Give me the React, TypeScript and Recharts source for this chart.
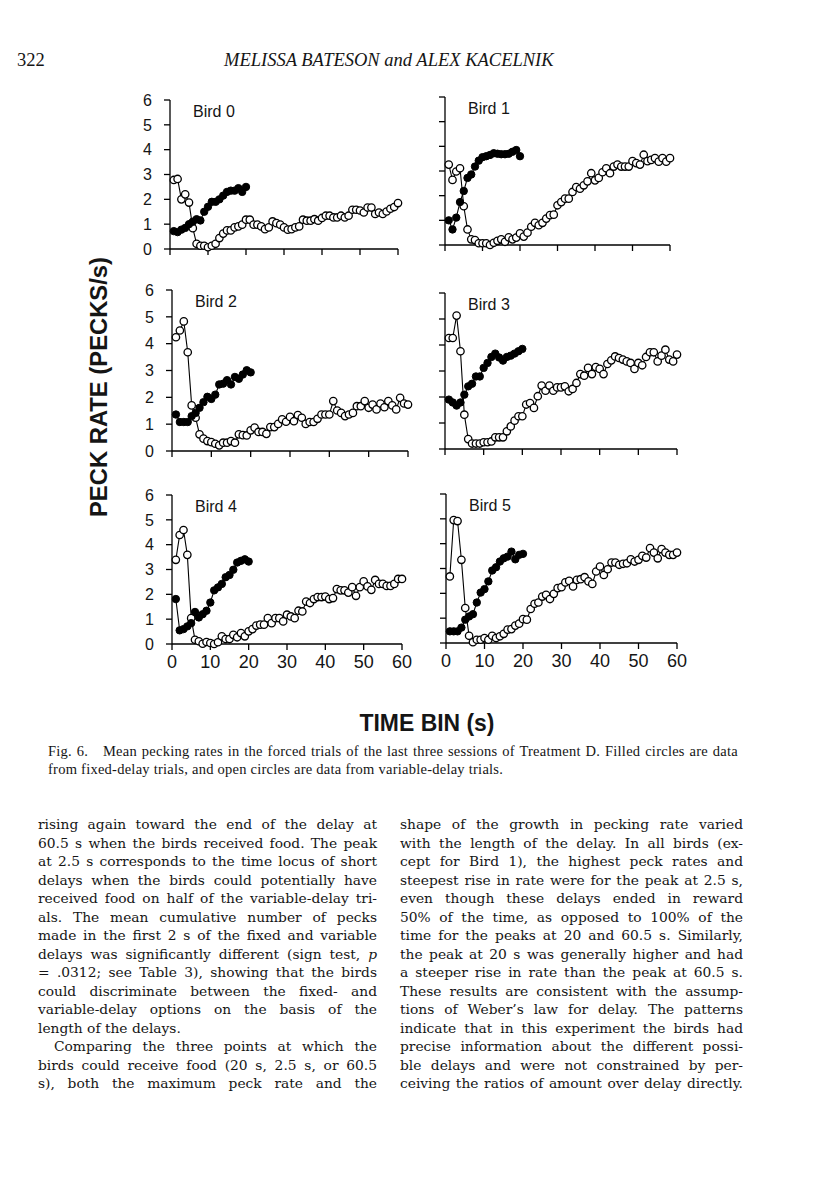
import React from 'react';
import { LineChart, Line, XAxis, YAxis } from 'recharts';

// time bins (s)
const bins = [
  1, 2, 3, 4, 5, 6, 7, 8, 9, 10, 11, 12, 13, 14, 15, 16, 17, 18, 19, 20,
  21, 22, 23, 24, 25, 26, 27, 28, 29, 30, 31, 32, 33, 34, 35, 36, 37, 38, 39, 40,
  41, 42, 43, 44, 45, 46, 47, 48, 49, 50, 51, 52, 53, 54, 55, 56, 57, 58, 59, 60,
];
const xTicks = [0, 10, 20, 30, 40, 50, 60];
const yTicks = [0, 1, 2, 3, 4, 5, 6];

// open circles = variable delay, filled = fixed delay
const bird0Open = [2.78, 2.82, 2.0, 2.2, 1.87, 0.84, 0.21, 0.13, 0.13, 0.07, 0.13, 0.21, 0.44, 0.62, 0.75, 0.75, 0.87, 0.91, 0.98, 1.18, 1.18, 0.98, 0.98, 0.91, 0.8, 0.87, 1.11, 1.04, 0.98, 0.87, 0.78, 0.8, 0.87, 0.91, 1.18, 1.14, 1.14, 1.2, 1.14, 1.25, 1.34, 1.34, 1.27, 1.27, 1.34, 1.27, 1.34, 1.58, 1.58, 1.55, 1.47, 1.67, 1.67, 1.41, 1.47, 1.41, 1.51, 1.62, 1.69, 1.85];
const bird0Filled = [0.72, 0.68, 0.78, 0.85, 1.0, 1.1, 1.2, 1.15, 1.5, 1.7, 1.9, 1.9, 2.0, 2.15, 2.3, 2.35, 2.35, 2.45, 2.3, 2.5];

const bird1Open = [3.26, 2.64, 2.98, 3.11, 1.57, 0.63, 0.23, 0.2, 0.07, 0.07, 0.07, 0.0, 0.09, 0.17, 0.23, 0.13, 0.31, 0.23, 0.3, 0.47, 0.34, 0.5, 0.74, 0.9, 0.8, 0.9, 1.07, 1.21, 1.23, 1.61, 1.74, 1.88, 1.88, 2.15, 2.35, 2.28, 2.42, 2.58, 2.91, 2.62, 2.72, 2.95, 3.11, 2.91, 3.18, 3.26, 3.18, 3.18, 3.18, 3.4, 3.32, 3.26, 3.66, 3.4, 3.45, 3.52, 3.38, 3.52, 3.38, 3.52];
const bird1Filled = [1.0, 0.63, 1.11, 1.74, 2.19, 2.72, 2.86, 3.18, 3.42, 3.56, 3.6, 3.65, 3.72, 3.7, 3.68, 3.68, 3.7, 3.78, 3.85, 3.6];

const bird2Open = [4.24, 4.49, 4.83, 3.68, 1.7, 1.24, 0.62, 0.46, 0.37, 0.33, 0.27, 0.21, 0.31, 0.31, 0.37, 0.31, 0.62, 0.59, 0.58, 0.77, 0.87, 0.71, 0.71, 0.64, 0.89, 0.89, 1.01, 1.18, 1.09, 1.27, 1.11, 1.34, 1.24, 1.01, 1.08, 1.08, 1.2, 1.36, 1.36, 1.36, 1.86, 1.51, 1.42, 1.3, 1.36, 1.42, 1.67, 1.67, 1.86, 1.61, 1.73, 1.55, 1.77, 1.63, 1.86, 1.7, 1.55, 1.98, 1.77, 1.73];
const bird2Filled = [1.36, 1.08, 1.08, 1.08, 1.3, 1.42, 1.61, 1.82, 2.02, 1.94, 2.1, 2.48, 2.51, 2.64, 2.48, 2.76, 2.69, 2.85, 3.01, 2.93];

const bird3Open = [4.27, 4.27, 5.13, 3.76, 1.32, 0.38, 0.21, 0.21, 0.21, 0.26, 0.26, 0.29, 0.45, 0.45, 0.45, 0.68, 0.87, 1.09, 1.26, 1.26, 1.71, 1.77, 1.58, 2.03, 2.44, 2.24, 2.44, 2.24, 2.37, 2.37, 2.41, 2.22, 2.31, 2.54, 2.88, 2.82, 3.12, 2.88, 3.15, 3.08, 2.88, 3.27, 3.41, 3.56, 3.5, 3.44, 3.37, 3.31, 3.08, 3.31, 3.22, 3.54, 3.72, 3.72, 3.37, 3.59, 3.82, 3.44, 3.37, 3.63];
const bird3Filled = [1.9, 1.79, 1.67, 1.79, 2.09, 2.41, 2.51, 2.79, 2.79, 3.12, 3.31, 3.54, 3.67, 3.52, 3.4, 3.54, 3.59, 3.67, 3.76, 3.85];

const bird4Open = [3.39, 4.39, 4.59, 3.59, 1.04, 0.17, 0.11, 0.01, 0.08, 0.04, 0.0, 0.07, 0.31, 0.2, 0.2, 0.37, 0.27, 0.44, 0.31, 0.51, 0.6, 0.74, 0.78, 0.78, 1.04, 0.84, 1.04, 1.04, 0.91, 1.18, 1.11, 1.04, 1.34, 1.31, 1.71, 1.65, 1.81, 1.89, 1.89, 1.91, 1.81, 1.85, 2.21, 2.16, 2.16, 2.07, 2.29, 1.94, 2.29, 2.52, 2.32, 2.18, 2.58, 2.42, 2.42, 2.34, 2.34, 2.42, 2.62, 2.62];
const bird4Filled = [1.81, 0.55, 0.6, 0.71, 0.84, 1.29, 1.07, 1.2, 1.34, 1.67, 2.16, 2.28, 2.42, 2.69, 2.78, 2.99, 3.28, 3.35, 3.41, 3.32];

const bird5Open = [2.68, 4.95, 4.91, 3.35, 1.41, 0.29, 0.03, 0.13, 0.13, 0.2, 0.13, 0.29, 0.2, 0.27, 0.37, 0.54, 0.56, 0.7, 0.78, 0.96, 0.94, 1.37, 1.58, 1.63, 1.87, 1.94, 1.77, 1.98, 2.21, 2.25, 2.44, 2.5, 2.28, 2.54, 2.57, 2.65, 2.48, 2.38, 2.88, 3.08, 2.74, 2.97, 3.24, 3.24, 3.15, 3.19, 3.21, 3.37, 3.28, 3.35, 3.51, 3.44, 3.82, 3.64, 3.41, 3.78, 3.64, 3.55, 3.55, 3.64];
const bird5Filled = [0.47, 0.47, 0.47, 0.62, 0.94, 1.07, 1.16, 1.63, 2.03, 2.17, 2.48, 2.92, 3.05, 3.28, 3.41, 3.48, 3.68, 3.37, 3.55, 3.59];

const leftLines = [
  'rising again toward the end of the delay at',
  '60.5 s when the birds received food. The peak',
  'at 2.5 s corresponds to the time locus of short',
  'delays when the birds could potentially have',
  'received food on half of the variable-delay tri-',
  'als. The mean cumulative number of pecks',
  'made in the first 2 s of the fixed and variable',
  'delays was significantly different (sign test, *p*',
  '= .0312; see Table 3), showing that the birds',
  'could discriminate between the fixed- and',
  'variable-delay options on the basis of the',
  'length of the delays.',
  'Comparing the three points at which the',
  'birds could receive food (20 s, 2.5 s, or 60.5',
  's), both the maximum peck rate and the',
];
const rightLines = [
  'shape of the growth in pecking rate varied',
  'with the length of the delay. In all birds (ex-',
  'cept for Bird 1), the highest peck rates and',
  'steepest rise in rate were for the peak at 2.5 s,',
  'even though these delays ended in reward',
  '50% of the time, as opposed to 100% of the',
  'time for the peaks at 20 and 60.5 s. Similarly,',
  'the peak at 20 s was generally higher and had',
  'a steeper rise in rate than the peak at 60.5 s.',
  'These results are consistent with the assump-',
  'tions of Weber\u2019s law for delay. The patterns',
  'indicate that in this experiment the birds had',
  'precise information about the different possi-',
  'ble delays and were not constrained by per-',
  'ceiving the ratios of amount over delay directly.',
];
const captionLines = [
  'Fig. 6.\u2003Mean pecking rates in the forced trials of the last three sessions of Treatment D. Filled circles are data',
  'from fixed-delay trials, and open circles are data from variable-delay trials.',
];

const sans = '"Liberation Sans", Arial, Helvetica, sans-serif';
const serif = '"Liberation Serif", "Times New Roman", serif';
const bookSerif = '"DejaVu Serif", "Liberation Serif", serif';
const ink = '#151515';

const toPoints = (vals: number[]) => vals.map((v, i) => ({ t: bins[i], v }));

const panels = [
  { name: 'Bird 0', open: bird0Open, filled: bird0Filled, L: 170, R: 398, T: 100, B: 249, yLabels: true, xLabels: false },
  { name: 'Bird 1', open: bird1Open, filled: bird1Filled, L: 445, R: 670, T: 97, B: 245, yLabels: false, xLabels: false },
  { name: 'Bird 2', open: bird2Open, filled: bird2Filled, L: 172, R: 408, T: 290, B: 451, yLabels: true, xLabels: false },
  { name: 'Bird 3', open: bird3Open, filled: bird3Filled, L: 445, R: 677, T: 293, B: 449, yLabels: false, xLabels: false },
  { name: 'Bird 4', open: bird4Open, filled: bird4Filled, L: 172, R: 402, T: 495, B: 644, yLabels: true, xLabels: true },
  { name: 'Bird 5', open: bird5Open, filled: bird5Filled, L: 446, R: 677, T: 494, B: 643, yLabels: false, xLabels: true },
];

const NoLabel = () => <g />;

function Panel({ p }: { p: (typeof panels)[number] }) {
  const w = p.R - p.L + 75;
  const h = p.B - p.T + 40;
  return (
    <div style={{ position: 'absolute', left: p.L - 60, top: p.T - 10 }}>
      <LineChart width={w} height={h} margin={{ top: 10, right: 15, left: 0, bottom: 0 }}>
        <XAxis
          type="number"
          dataKey="t"
          domain={[0, 60]}
          ticks={xTicks}
          interval={0}
          height={30}
          axisLine={{ stroke: '#000', strokeWidth: 1.3 }}
          tickLine={{ stroke: '#000', strokeWidth: 1.3 }}
          tickSize={6}
          tickMargin={5}
          tick={p.xLabels ? { fontSize: 18, fill: ink, fontFamily: sans } : NoLabel}
        />
        <YAxis
          type="number"
          domain={[0, 6]}
          ticks={yTicks}
          interval={0}
          width={60}
          axisLine={{ stroke: '#000', strokeWidth: 1.3 }}
          tickLine={{ stroke: '#000', strokeWidth: 1.3 }}
          tickSize={6}
          tickMargin={12}
          tick={p.yLabels ? { fontSize: 16, fill: ink, fontFamily: sans } : NoLabel}
        />
        <Line
          data={toPoints(p.open)}
          dataKey="v"
          stroke="#000"
          strokeWidth={1.1}
          dot={{ r: 3.7, fill: '#fff', stroke: '#000', strokeWidth: 1.3 }}
          isAnimationActive={false}
        />
        <Line
          data={toPoints(p.filled)}
          dataKey="v"
          stroke="#000"
          strokeWidth={1.1}
          dot={{ r: 3.7, fill: '#000', stroke: '#000', strokeWidth: 1 }}
          isAnimationActive={false}
        />
      </LineChart>
    </div>
  );
}

function TextLine({ text, last, indent }: { text: string; last?: boolean; indent?: boolean }) {
  const parts = text.split('*');
  return (
    <div
      style={{
        whiteSpace: 'nowrap',
        textAlign: 'justify',
        textAlignLast: last ? 'left' : 'justify',
        textIndent: indent ? 16 : 0,
      }}
    >
      {parts.map((s, i) => (i % 2 === 1 ? <i key={i}>{s}</i> : <span key={i}>{s}</span>))}
    </div>
  );
}

export default function App() {
  const colStyle: React.CSSProperties = {
    position: 'absolute',
    top: 815,
    fontFamily: bookSerif,
    fontSize: 13.8,
    lineHeight: '18.5px',
    color: ink,
  };
  return (
    <div style={{ position: 'absolute', left: 0, top: 0, width: 816, height: 1200, background: '#fff', overflow: 'hidden' }}>
      <div style={{ position: 'absolute', left: 17, top: 50, fontFamily: serif, fontSize: 18.5, color: ink }}>322</div>
      <div
        style={{
          position: 'absolute',
          left: 224,
          top: 50,
          width: 323,
          fontFamily: serif,
          fontSize: 18.5,
          fontStyle: 'italic',
          color: ink,
          textAlign: 'center',
          whiteSpace: 'nowrap',
        }}
      >
        MELISSA BATESON and ALEX KACELNIK
      </div>

      {panels.map((p) => (
        <Panel key={p.name} p={p} />
      ))}

      <svg width={816} height={760} style={{ position: 'absolute', left: 0, top: 0, pointerEvents: 'none' }}>
        {panels.map((p) => (
          <text key={p.name} x={p.L + 23} y={p.T + 17} fontSize={16} fontFamily={sans} fill={ink}>
            {p.name}
          </text>
        ))}
        <text
          transform="translate(99,387) rotate(-90)"
          textAnchor="middle"
          dominantBaseline="central"
          fontSize={23}
          fontWeight="bold"
          fontFamily={sans}
          fill={ink}
          textLength={260}
          lengthAdjust="spacingAndGlyphs"
        >
          PECK RATE (PECKS/s)
        </text>
        <text
          x={427}
          y={722}
          textAnchor="middle"
          dominantBaseline="central"
          fontSize={24}
          fontWeight="bold"
          fontFamily={sans}
          fill={ink}
          textLength={135}
          lengthAdjust="spacingAndGlyphs"
        >
          TIME BIN (s)
        </text>
      </svg>

      <div
        style={{
          position: 'absolute',
          left: 48,
          top: 742,
          width: 690,
          fontFamily: serif,
          fontSize: 14.5,
          letterSpacing: 0.25,
          lineHeight: '18px',
          color: ink,
        }}
      >
        <TextLine text={captionLines[0]} />
        <TextLine text={captionLines[1]} last />
      </div>

      <div style={{ ...colStyle, left: 38, width: 339 }}>
        {leftLines.map((t, i) => (
          <TextLine key={i} text={t} last={i === 11} indent={i === 12} />
        ))}
      </div>
      <div style={{ ...colStyle, left: 400, width: 343 }}>
        {rightLines.map((t, i) => (
          <TextLine key={i} text={t} />
        ))}
      </div>
    </div>
  );
}
